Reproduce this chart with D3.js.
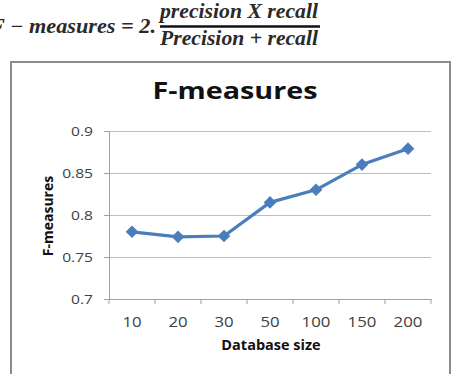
<!DOCTYPE html>
<html>
<head>
<meta charset="utf-8">
<script src="https://cdn.jsdelivr.net/npm/d3@7"></script>
<style>
  body { margin: 0; background: #fff; }
  svg { display: block; }
</style>
</head>
<body>
<div id="chart"></div>
<script>
// Chart data
const categories = ["10", "20", "30", "50", "100", "150", "200"];
const fMeasures = [0.780, 0.774, 0.775, 0.815, 0.830, 0.860, 0.879];
const yTicks = [0.7, 0.75, 0.8, 0.85, 0.9];

const width = 455;
const height = 374;

const svg = d3.select("#chart")
    .append("svg")
    .attr("width", width)
    .attr("height", height);

// Formula above the chart (cut off on the left like the picture)
const formula = svg.append("g")
    .style("font-family", "'Liberation Serif', serif")
    .style("font-style", "italic")
    .style("font-weight", "bold")
    .attr("fill", "#2a2a2a");

formula.append("text")
    .attr("x", 156)
    .attr("y", 33)
    .attr("text-anchor", "end")
    .attr("textLength", 166)
    .attr("lengthAdjust", "spacingAndGlyphs")
    .style("font-size", "20px")
    .text("F − measures = 2.");

formula.append("text")
    .attr("x", 160)
    .attr("y", 18)
    .attr("textLength", 158)
    .attr("lengthAdjust", "spacingAndGlyphs")
    .style("font-size", "20px")
    .text("precision X recall");

formula.append("line")
    .attr("x1", 160).attr("x2", 320)
    .attr("y1", 26.5).attr("y2", 26.5)
    .attr("stroke", "#111")
    .attr("stroke-width", 2.5);

formula.append("text")
    .attr("x", 160)
    .attr("y", 45)
    .attr("textLength", 158)
    .attr("lengthAdjust", "spacingAndGlyphs")
    .style("font-size", "20px")
    .text("Precision + recall");

// Chart frame
svg.append("rect")
    .attr("x", 11)
    .attr("y", 62)
    .attr("width", 439)
    .attr("height", 340)
    .attr("fill", "#fff")
    .attr("stroke", "#8c8c8c")
    .attr("stroke-width", 2);

// Title
svg.append("text")
    .attr("x", 235)
    .attr("y", 99)
    .attr("text-anchor", "middle")
    .attr("textLength", 165)
    .attr("lengthAdjust", "spacingAndGlyphs")
    .style("font-family", "'Open Sans', sans-serif")
    .style("font-weight", "bold")
    .style("font-size", "23px")
    .attr("fill", "#111")
    .text("F-measures");

// Scales
const x = d3.scaleBand()
    .domain(categories)
    .range([109, 431]);

const y = d3.scaleLinear()
    .domain([0.7, 0.9])
    .range([299, 131]);

// Gridlines
svg.append("g")
    .selectAll("line")
    .data(yTicks.filter(d => d > 0.7))
    .enter()
    .append("line")
    .attr("x1", x.range()[0])
    .attr("x2", x.range()[1])
    .attr("y1", d => Math.round(y(d)) + 0.5)
    .attr("y2", d => Math.round(y(d)) + 0.5)
    .attr("stroke", "#bdbdbd")
    .attr("stroke-width", 1);

// Y axis
const tickScale = 1.2;
const yAxis = svg.append("g")
    .attr("transform", `translate(${x.range()[0]},0)`)
    .call(d3.axisLeft(y).tickValues(yTicks).tickSize(5).tickFormat(d3.format("~g")));

yAxis.select(".domain").attr("stroke", "#a0a0a0");
yAxis.selectAll(".tick line").attr("stroke", "#a0a0a0");
yAxis.selectAll(".tick text")
    .attr("x", -16 / tickScale)
    .attr("transform", `scale(${tickScale},1)`)
    .attr("fill", "#404040")
    .style("font-family", "'Open Sans', sans-serif")
    .style("font-size", "13px");

// X axis: labels at the band centres, tick marks at the band edges
const xAxis = svg.append("g")
    .attr("transform", `translate(0,${y(0.7)})`)
    .call(d3.axisBottom(x).tickSize(0).tickPadding(18));

xAxis.select(".domain").attr("stroke", "#a0a0a0");
xAxis.selectAll(".tick text")
    .attr("transform", `scale(${tickScale},1)`)
    .attr("fill", "#404040")
    .style("font-family", "'Open Sans', sans-serif")
    .style("font-size", "14px");

const edges = categories.map(c => x(c)).concat([x.range()[1]]);
xAxis.append("g")
    .selectAll("line")
    .data(edges)
    .enter()
    .append("line")
    .attr("x1", d => d)
    .attr("x2", d => d)
    .attr("y1", 0)
    .attr("y2", 5)
    .attr("stroke", "#a0a0a0");

// Axis titles
svg.append("text")
    .attr("x", 271)
    .attr("y", 350)
    .attr("text-anchor", "middle")
    .style("font-family", "'Open Sans', sans-serif")
    .style("font-weight", "bold")
    .style("font-size", "14.5px")
    .attr("fill", "#111")
    .text("Database size");

svg.append("text")
    .attr("transform", "translate(53,216) rotate(-90)")
    .attr("text-anchor", "middle")
    .style("font-family", "'Open Sans', sans-serif")
    .style("font-weight", "bold")
    .style("font-size", "14px")
    .attr("fill", "#111")
    .text("F-measures");

// Series line and diamond markers
const points = categories.map((c, i) => [x(c) + x.bandwidth() / 2, y(fMeasures[i])]);

svg.append("path")
    .datum(points)
    .attr("d", d3.line())
    .attr("fill", "none")
    .attr("stroke", "#4a7ebb")
    .attr("stroke-width", 3.2)
    .attr("stroke-linejoin", "round");

svg.append("g")
    .selectAll("path")
    .data(points)
    .enter()
    .append("path")
    .attr("d", d3.symbol().type(d3.symbolSquare).size(80))
    .attr("transform", d => `translate(${d[0]},${d[1]}) rotate(45)`)
    .attr("fill", "#4a7ebb");
</script>
</body>
</html>
